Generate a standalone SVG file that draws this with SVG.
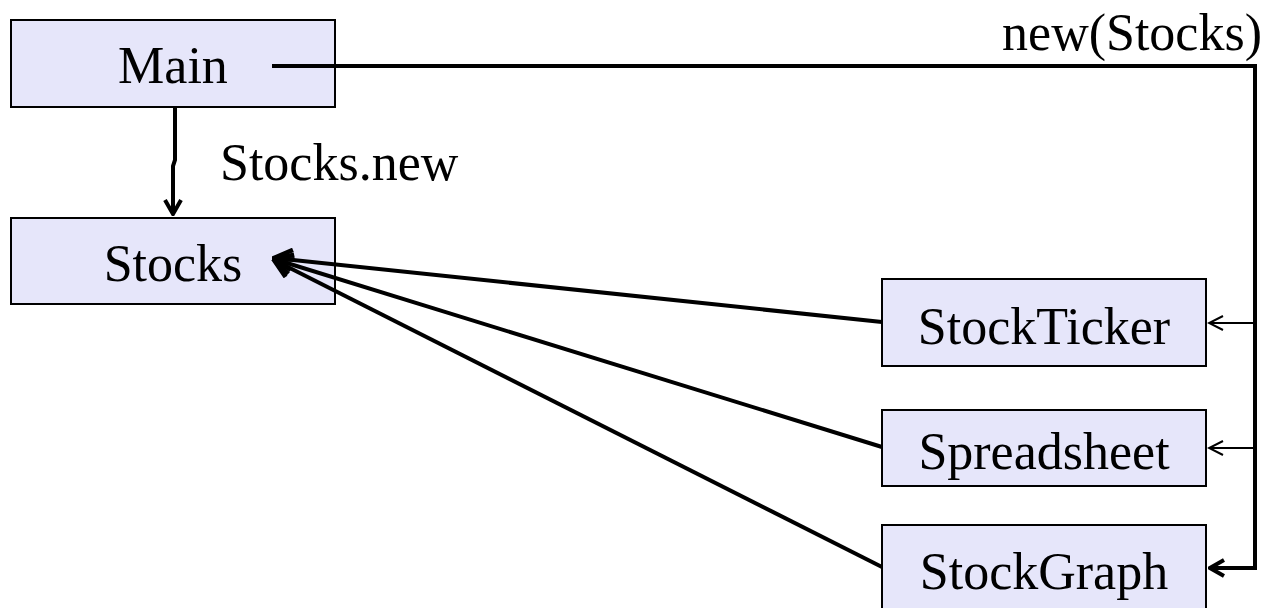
<svg xmlns="http://www.w3.org/2000/svg" width="1266" height="608" viewBox="0 0 1266 608">
<defs>
<style>
.box{fill:#e6e6fa;stroke:#000;stroke-width:2}
.t{font-family:"Liberation Serif","Times New Roman",serif;font-size:52px;fill:#000}
.c{fill:none;stroke:#000;stroke-width:4}
.thin{fill:none;stroke:#000;stroke-width:2}
</style>
<marker id="ab" viewBox="0 0 20 20" refX="18" refY="10" markerWidth="20" markerHeight="20" markerUnits="userSpaceOnUse" orient="auto">
<path d="M4,2 L18,10 L4,18" fill="none" stroke="#000" stroke-width="4"/>
</marker>
<marker id="ab2" viewBox="0 0 24 24" refX="22" refY="12" markerWidth="24" markerHeight="24" markerUnits="userSpaceOnUse" orient="auto">
<path d="M4,2 L22,12 L4,22" fill="none" stroke="#000" stroke-width="4.5"/>
</marker>
<marker id="at" viewBox="0 0 20 20" refX="18" refY="10" markerWidth="20" markerHeight="20" markerUnits="userSpaceOnUse" orient="auto">
<path d="M4,3 L18,10 L4,17" fill="none" stroke="#000" stroke-width="2"/>
</marker>
</defs>
<g id="main"><rect class="box" x="11" y="20" width="324" height="87"/><text class="t" x="173" y="83" text-anchor="middle">Main</text></g>
<g id="stocks"><rect class="box" x="11" y="218" width="324" height="86"/><text class="t" x="173" y="281" text-anchor="middle">Stocks</text></g>
<g id="stockticker"><rect class="box" x="882" y="279" width="324" height="87"/><text class="t" x="1044" y="344" text-anchor="middle">StockTicker</text></g>
<g id="spreadsheet"><rect class="box" x="882" y="410" width="324" height="76"/><text class="t" x="1044" y="469" text-anchor="middle">Spreadsheet</text></g>
<g id="stockgraph"><rect class="box" x="882" y="525" width="324" height="90"/><text class="t" x="1044" y="589" text-anchor="middle">StockGraph</text></g>
<g id="connectors">
<path class="c" d="M175,107 L175,160 L173,166 L173,214" marker-end="url(#ab)"/>
<path class="c" d="M272,66 L1255,66 L1255,568 L1210,568" marker-end="url(#ab)"/>
<path class="thin" d="M1255,323 L1209,323" marker-end="url(#at)"/>
<path class="thin" d="M1255,448 L1209,448" marker-end="url(#at)"/>
<path class="c" d="M882,322 L274,258" marker-end="url(#ab2)"/>
<path class="c" d="M882,447 L274,259" marker-end="url(#ab2)"/>
<path class="c" d="M882,567 L274,260" marker-end="url(#ab2)"/>
</g>
<text class="t" x="220" y="180">Stocks.new</text>
<text class="t" x="1262" y="50" text-anchor="end">new(Stocks)</text>
</svg>
